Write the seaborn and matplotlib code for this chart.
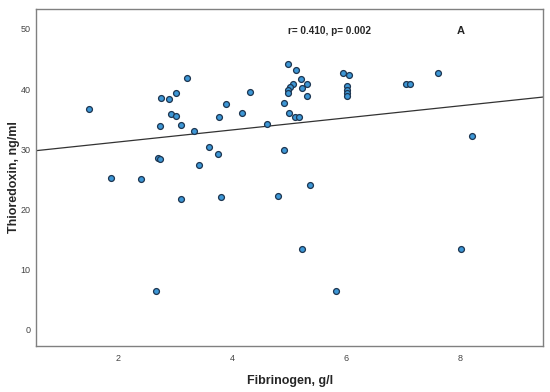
import matplotlib
matplotlib.use("Agg")
import matplotlib.pyplot as plt
import seaborn as sns
import numpy as np
import pandas as pd

# values
fibrinogen = [1.49, 1.87, 2.40, 2.66, 2.70, 2.73, 2.73, 2.75, 2.88, 2.92,
              3.01, 3.01, 3.09, 3.10, 3.20, 3.33, 3.41, 3.59, 3.75, 3.77,
              3.80, 3.89, 4.17, 4.31, 4.61, 4.80, 4.91, 4.90, 4.98, 5.11,
              5.20, 5.07, 5.31, 5.01, 4.97, 5.22, 4.98, 5.31, 5.00, 5.10,
              5.16, 5.37, 5.22, 5.81, 5.94, 6.05, 6.01, 6.01, 6.01, 6.01,
              7.04, 7.11, 7.61, 8.01, 8.21]
thioredoxin = [36.7, 25.2, 25.1, 6.5, 28.6, 28.3, 33.8, 38.5, 38.3, 35.8,
               39.3, 35.5, 34.0, 21.7, 41.8, 33.0, 27.3, 30.3, 29.2, 35.4,
               22.1, 37.6, 36.0, 39.5, 34.2, 22.3, 37.7, 29.9, 44.2, 43.1,
               41.6, 40.9, 40.9, 40.4, 39.9, 40.2, 39.3, 38.9, 36.1, 35.3,
               35.3, 24.1, 13.5, 6.5, 42.6, 42.4, 40.5, 39.9, 39.3, 38.9,
               40.8, 40.9, 42.7, 13.4, 32.2]
x_ticks = [2, 4, 6, 8]
y_ticks = [0, 10, 20, 30, 40, 50]
stats_text = "r= 0.410, p= 0.002"
panel_label = "A"

df = pd.DataFrame({"Fibrinogen": fibrinogen, "Thioredoxin": thioredoxin})

sns.set_style("white")
plt.rcParams['font.family'] = ['Liberation Sans', 'DejaVu Sans']

fig = plt.figure(figsize=(5.5, 3.92), dpi=100)
ax = fig.add_axes([0.0655, 0.118, 0.922, 0.859])

# limits first so the fit line spans the whole axis (truncate=False)
ax.set_xlim(0.556, 9.45)
ax.set_ylim(-2.65, 53.3)

sns.regplot(data=df, x="Fibrinogen", y="Thioredoxin", ax=ax, ci=None,
            truncate=False,
            scatter_kws=dict(s=18, color="#3d97d6", edgecolor="#1d3550",
                             linewidths=0.9, alpha=1, zorder=3),
            line_kws=dict(color="#333333", linewidth=0.9, zorder=2))

ax.set_xlim(0.556, 9.45)
ax.set_ylim(-2.65, 53.3)
ax.set_xticks(x_ticks)
ax.set_yticks(y_ticks)
ax.tick_params(axis="both", length=0, labelsize=6.5, colors="#444444")
ax.tick_params(axis="x", pad=6)
ax.tick_params(axis="y", pad=4)
for s in ax.spines.values():
    s.set_color("#808080")
    s.set_linewidth(1.0)

ax.set_xlabel("Fibrinogen, g/l", fontsize=9, fontweight="bold")
ax.set_ylabel("Thioredoxin, ng/ml", fontsize=9, fontweight="bold")
ax.xaxis.set_label_coords(0.5, -0.087)
ax.yaxis.set_label_coords(-0.032, 0.5)

ax.text(4.97, 49.6, stats_text, fontsize=7.2, fontweight="bold", va="center")
ax.text(7.93, 49.6, panel_label, fontsize=8, fontweight="bold", va="center")

fig.savefig("out.png", dpi=100)
